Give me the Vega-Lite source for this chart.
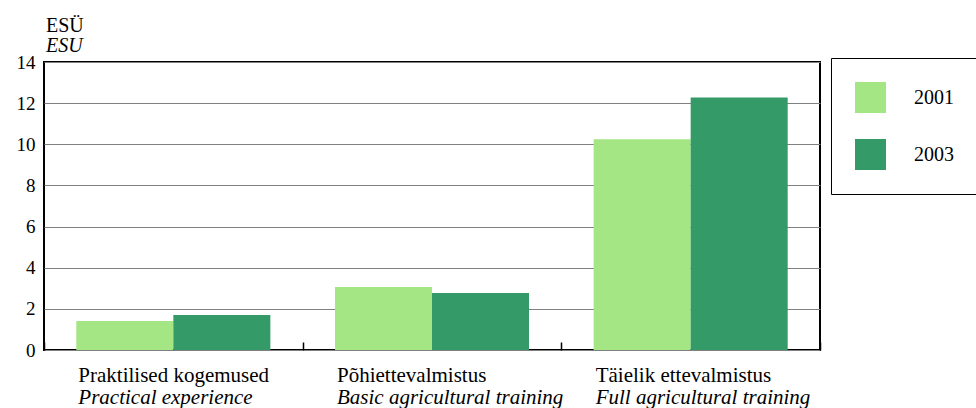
{
  "$schema": "https://vega.github.io/schema/vega-lite/v6.json",
  "width": 776,
  "height": 288,
  "autosize": {"type": "none"},
  "padding": {"left": 44, "top": 62, "right": 156, "bottom": 58},
  "background": "white",
  "config": {
    "font": "'Liberation Serif', Tinos, 'Times New Roman', Times, 'DejaVu Serif', serif",
    "view": {"stroke": "black", "strokeWidth": 2}
  },
  "title": {
    "text": "ESÜ",
    "subtitle": "ESU",
    "anchor": "start",
    "frame": "group",
    "font": "'Liberation Serif', Tinos, 'Times New Roman', Times, 'DejaVu Serif', serif",
    "fontSize": 20,
    "fontWeight": "normal",
    "color": "black",
    "subtitleFont": "'Liberation Serif', Tinos, 'Times New Roman', Times, 'DejaVu Serif', serif",
    "subtitleFontSize": 20,
    "subtitleFontStyle": "italic",
    "subtitleColor": "black",
    "subtitlePadding": 0,
    "offset": -3,
    "dx": 2
  },
  "datasets": {
    "bars": [
      {"cat": "Praktilised kogemused", "year": "2001", "value": 1.41},
      {"cat": "Praktilised kogemused", "year": "2003", "value": 1.7},
      {"cat": "Põhiettevalmistus", "year": "2001", "value": 3.06},
      {"cat": "Põhiettevalmistus", "year": "2003", "value": 2.77},
      {"cat": "Täielik ettevalmistus", "year": "2001", "value": 10.24},
      {"cat": "Täielik ettevalmistus", "year": "2003", "value": 12.27}
    ],
    "labels": [
      {"cat": "Praktilised kogemused", "en": "Practical experience"},
      {"cat": "Põhiettevalmistus", "en": "Basic agricultural training"},
      {"cat": "Täielik ettevalmistus", "en": "Full agricultural training"}
    ]
  },
  "layer": [
    {
      "data": {"name": "bars"},
      "mark": {"type": "bar"},
      "encoding": {
        "x": {
          "field": "cat",
          "type": "nominal",
          "sort": null,
          "scale": {"paddingInner": 0, "paddingOuter": 0},
          "axis": {
            "title": null,
            "labels": false,
            "domain": false,
            "ticks": true,
            "tickBand": "extent",
            "tickSize": -8,
            "tickColor": "black",
            "tickWidth": 1.5,
            "grid": false
          }
        },
        "xOffset": {
          "field": "year",
          "type": "nominal",
          "scale": {"paddingInner": 0, "paddingOuter": 0.333}
        },
        "y": {
          "field": "value",
          "type": "quantitative",
          "scale": {"domain": [0, 14], "nice": false},
          "axis": {
            "title": null,
            "values": [0, 2, 4, 6, 8, 10, 12, 14],
            "domain": false,
            "ticks": false,
            "labelPadding": 9,
            "labelFont": "'Liberation Serif', Tinos, 'Times New Roman', Times, 'DejaVu Serif', serif",
            "labelFontSize": 19,
            "labelColor": "black",
            "grid": true,
            "gridColor": "#808080",
            "gridWidth": 1
          }
        },
        "color": {
          "field": "year",
          "type": "nominal",
          "scale": {"domain": ["2001", "2003"], "range": ["#a4e584", "#349a67"]},
          "legend": {
            "title": null,
            "orient": "none",
            "legendX": 787,
            "legendY": -4,
            "direction": "vertical",
            "fillColor": "white",
            "strokeColor": "black",
            "cornerRadius": 0,
            "padding": 24,
            "symbolType": "square",
            "symbolSize": 961,
            "symbolStrokeWidth": 0,
            "symbolOpacity": 1,
            "rowPadding": 26,
            "labelOffset": 28,
            "labelFont": "'Liberation Serif', Tinos, 'Times New Roman', Times, 'DejaVu Serif', serif",
            "labelFontSize": 20,
            "labelColor": "black"
          }
        }
      }
    },
    {
      "data": {"name": "labels"},
      "mark": {"type": "text", "align": "left", "baseline": "alphabetic", "dx": -95, "fontSize": 21, "font": "'Liberation Serif', Tinos, 'Times New Roman', Times, 'DejaVu Serif', serif", "color": "black"},
      "encoding": {
        "x": {"field": "cat", "type": "nominal", "sort": null},
        "y": {"datum": -1.56},
        "text": {"field": "cat"}
      }
    },
    {
      "data": {"name": "labels"},
      "mark": {"type": "text", "align": "left", "baseline": "alphabetic", "dx": -95, "fontSize": 21, "fontStyle": "italic", "font": "'Liberation Serif', Tinos, 'Times New Roman', Times, 'DejaVu Serif', serif", "color": "black"},
      "encoding": {
        "x": {"field": "cat", "type": "nominal", "sort": null},
        "y": {"datum": -2.62},
        "text": {"field": "en"}
      }
    }
  ]
}
